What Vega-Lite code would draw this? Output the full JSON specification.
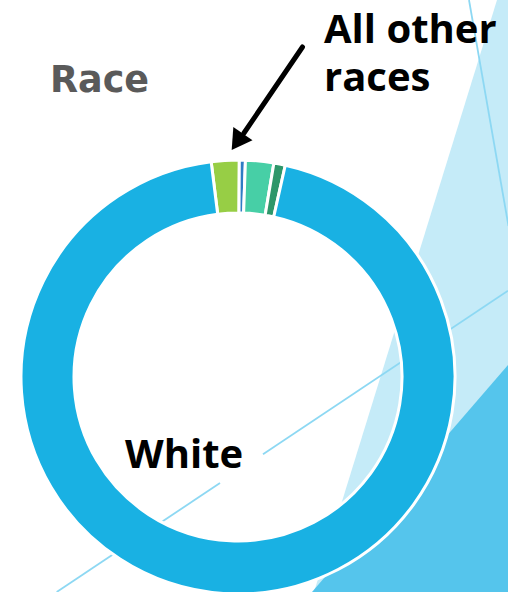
{
  "$schema": "https://vega.github.io/schema/vega-lite/v6.json",
  "width": 508,
  "height": 592,
  "padding": 0,
  "autosize": {"type": "none"},
  "background": "#FFFFFF",
  "config": {"view": {"stroke": null}, "axis": {"disable": true}},
  "layer": [
    {
      "data": {"values": [{"py": 0, "px": 497, "px2": 508}, {"py": 592, "px": 314, "px2": 508}]},
      "mark": {"type": "area", "orient": "horizontal", "color": "#C5EBF8"},
      "encoding": {
        "y": {"field": "py", "type": "quantitative", "scale": {"domain": [0, 592], "reverse": true, "nice": false, "zero": false}, "axis": null},
        "x": {"field": "px", "type": "quantitative", "scale": {"domain": [0, 508], "nice": false, "zero": false}, "axis": null, "stack": null},
        "x2": {"field": "px2"}
      }
    },
    {
      "data": {"values": [{"py": 365, "px": 508, "px2": 508}, {"py": 592, "px": 312, "px2": 508}]},
      "mark": {"type": "area", "orient": "horizontal", "color": "#55C5EC"},
      "encoding": {
        "y": {"field": "py", "type": "quantitative"},
        "x": {"field": "px", "type": "quantitative", "stack": null},
        "x2": {"field": "px2"}
      }
    },
    {
      "data": {"values": [
        {"ax": 56.7, "ay": 592, "bx": 220, "by": 483},
        {"ax": 263, "ay": 454.2, "bx": 508, "by": 290.7},
        {"ax": 469, "ay": 0, "bx": 508.5, "by": 226}
      ]},
      "mark": {"type": "rule", "color": "#8DD8F3", "strokeWidth": 1.8},
      "encoding": {
        "x": {"field": "ax", "type": "quantitative"},
        "y": {"field": "ay", "type": "quantitative"},
        "x2": {"field": "bx"},
        "y2": {"field": "by"}
      }
    },
    {
      "data": {"values": [
        {"race": "Other A", "pct": 2.07, "k": 1},
        {"race": "Other B", "pct": 0.45, "k": 2},
        {"race": "Other C", "pct": 2.1, "k": 3},
        {"race": "Other D", "pct": 0.85, "k": 4},
        {"race": "White", "pct": 94.53, "k": 5}
      ]},
      "mark": {"type": "arc", "outerRadius": 217, "innerRadius": 164, "stroke": "#FFFFFF", "strokeWidth": 3},
      "encoding": {
        "x": {"datum": 238},
        "y": {"datum": 377},
        "theta": {"field": "pct", "type": "quantitative", "stack": true, "scale": {"range": [-0.124, 6.159]}},
        "order": {"field": "k", "type": "quantitative"},
        "color": {"field": "race", "type": "nominal", "legend": null,
          "scale": {"domain": ["Other A", "Other B", "Other C", "Other D", "White"],
                    "range": ["#97CE45", "#2F7CC4", "#47CFA6", "#2E976A", "#19B1E3"]}}
      }
    },
    {
      "data": {"values": [{"label": "Race"}]},
      "mark": {"type": "text", "font": "DejaVu Sans", "fontWeight": "bold", "fontSize": 36.5, "color": "#5A5A5A", "align": "left", "baseline": "alphabetic"},
      "encoding": {"x": {"datum": 50}, "y": {"datum": 91.7}, "text": {"field": "label"}}
    },
    {
      "data": {"values": [{"label": "All other\nraces"}]},
      "mark": {"type": "text", "font": "Open Sans", "fontWeight": "bold", "fontSize": 40, "lineHeight": 47.4, "lineBreak": "\n", "color": "#000000", "align": "left", "baseline": "alphabetic"},
      "encoding": {"x": {"datum": 324}, "y": {"datum": 43.3}, "text": {"field": "label"}}
    },
    {
      "data": {"values": [{"label": "White"}]},
      "mark": {"type": "text", "font": "Open Sans", "fontWeight": "bold", "fontSize": 40, "color": "#000000", "align": "left", "baseline": "alphabetic"},
      "encoding": {"x": {"datum": 125}, "y": {"datum": 467.5}, "text": {"field": "label"}}
    },
    {
      "data": {"values": [{"name": "arrow"}]},
      "mark": {"type": "rule", "color": "#000000", "strokeWidth": 5, "strokeCap": "round"},
      "encoding": {"x": {"datum": 302.5}, "y": {"datum": 47}, "x2": {"datum": 244}, "y2": {"datum": 133}}
    },
    {
      "data": {"values": [{"name": "arrowhead"}]},
      "mark": {"type": "point", "shape": "M0,-1L0.94,0.6L-0.94,0.6Z", "filled": true, "color": "#000000", "opacity": 1, "size": 612, "angle": 214.5},
      "encoding": {"x": {"datum": 238.7}, "y": {"datum": 139.8}}
    }
  ]
}
